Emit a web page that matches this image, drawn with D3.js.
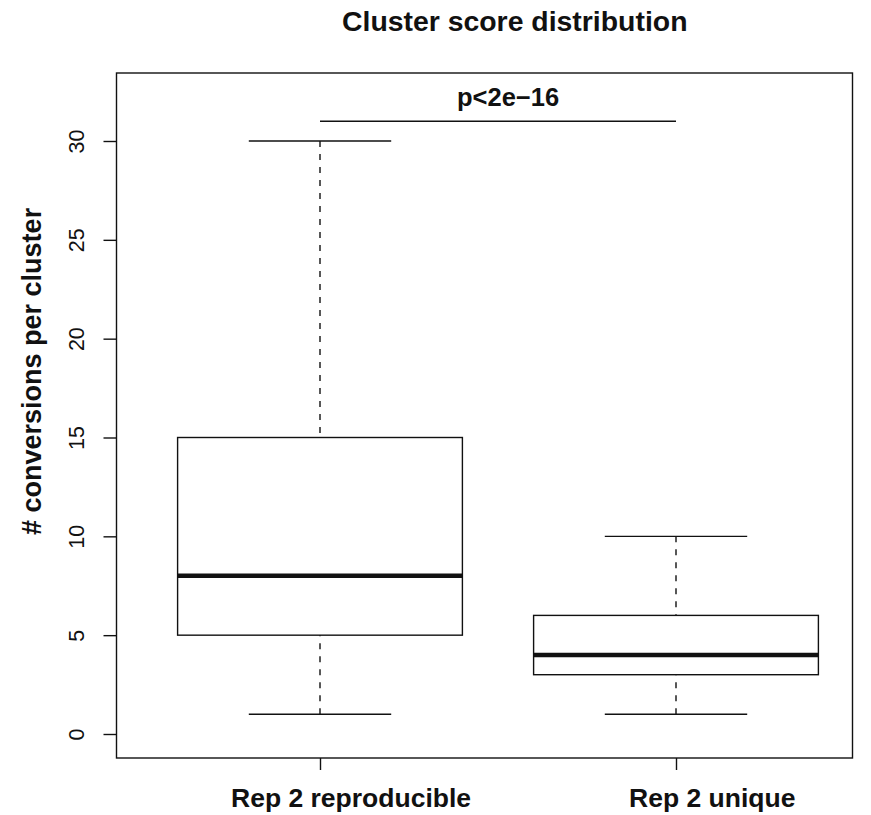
<!DOCTYPE html>
<html>
<head>
<meta charset="utf-8">
<script src="https://cdn.jsdelivr.net/npm/d3@7"></script>
<style>
  html, body { margin: 0; padding: 0; background: #fff; }
  svg { display: block; }
  text { font-family: "Liberation Sans", Arial, Helvetica, sans-serif; fill: #111; }
</style>
</head>
<body>
<svg id="chart" width="871" height="815"></svg>
<script>
// ---- data ----
const categories = ["Rep 2 reproducible", "Rep 2 unique"];
const whiskerLow = [1, 1];
const q1 = [5, 3];
const medians = [8, 4];
const q3 = [15, 6];
const whiskerHigh = [30, 10];
const yTicks = [0, 5, 10, 15, 20, 25, 30];
const titleText = "Cluster score distribution";
const yLabel = "# conversions per cluster";
const pText = "p<2e\u221216";
const pLevel = 31;

// ---- layout ----
const svg = d3.select("#chart");
const frame = { left: 116.5, right: 852.5, top: 73, bottom: 758 };
const ink = "#111";

const y = d3.scaleLinear().domain([0, 30]).range([734, 141]);
const x = d3.scaleLinear().domain([0, 1]).range([320, 676]);
const boxHalf = 0.4, capHalf = 0.2;

// frame
svg.append("rect")
  .attr("x", frame.left).attr("y", frame.top)
  .attr("width", frame.right - frame.left).attr("height", frame.bottom - frame.top)
  .attr("fill", "none").attr("stroke", ink).attr("stroke-width", 1.4);

// y axis
const yAxis = d3.axisLeft(y).tickValues(yTicks).tickSize(13).tickPadding(0).tickFormat(d3.format("d"));
const gy = svg.append("g").attr("transform", `translate(${frame.left},0)`).call(yAxis);
gy.select(".domain").remove();
gy.selectAll(".tick line").attr("stroke", ink).attr("stroke-width", 1.4);
gy.selectAll(".tick text")
  .attr("x", null).attr("dy", null)
  .attr("transform", "translate(-33,0) rotate(-90)")
  .attr("text-anchor", "middle")
  .style("font-size", "21.5px")
  .style("font-family", "'Liberation Sans', Arial, sans-serif")
  .attr("fill", ink);

// x axis ticks
const xAxis = d3.axisBottom(x).tickValues(categories.map((d, i) => i)).tickSize(12).tickFormat("");
const gx = svg.append("g").attr("transform", `translate(0,${frame.bottom})`).call(xAxis);
gx.select(".domain").remove();
gx.selectAll(".tick line").attr("stroke", ink).attr("stroke-width", 1.4);

// x labels
const labelStarts = [231, 629];
svg.selectAll(".xlab").data(categories).join("text")
  .attr("class", "xlab")
  .attr("x", (d, i) => labelStarts[i])
  .attr("y", 807)
  .attr("text-anchor", "start")
  .style("font-size", "26.5px").style("font-weight", "bold")
  .text(d => d);

// boxes
const g = svg.append("g");
categories.forEach((c, i) => {
  g.append("line")
    .attr("x1", x(i)).attr("x2", x(i))
    .attr("y1", y(whiskerHigh[i])).attr("y2", y(q3[i]))
    .attr("stroke", ink).attr("stroke-width", 1.4).attr("stroke-dasharray", "6,7");
  g.append("line")
    .attr("x1", x(i)).attr("x2", x(i))
    .attr("y1", y(whiskerLow[i])).attr("y2", y(q1[i]))
    .attr("stroke", ink).attr("stroke-width", 1.4).attr("stroke-dasharray", "6,7");
  [whiskerLow[i], whiskerHigh[i]].forEach(v => {
    g.append("line")
      .attr("x1", x(i - capHalf)).attr("x2", x(i + capHalf))
      .attr("y1", y(v)).attr("y2", y(v))
      .attr("stroke", ink).attr("stroke-width", 1.4);
  });
  g.append("rect")
    .attr("x", x(i - boxHalf)).attr("width", x(i + boxHalf) - x(i - boxHalf))
    .attr("y", y(q3[i])).attr("height", y(q1[i]) - y(q3[i]))
    .attr("fill", "none").attr("stroke", ink).attr("stroke-width", 1.4);
  g.append("line")
    .attr("x1", x(i - boxHalf)).attr("x2", x(i + boxHalf))
    .attr("y1", y(medians[i])).attr("y2", y(medians[i]))
    .attr("stroke", ink).attr("stroke-width", 4.5);
});

// significance bar
svg.append("line")
  .attr("x1", x(0)).attr("x2", x(1))
  .attr("y1", y(pLevel)).attr("y2", y(pLevel))
  .attr("stroke", ink).attr("stroke-width", 1.4);
svg.append("text")
  .attr("x", 457).attr("y", 106)
  .attr("text-anchor", "start")
  .style("font-size", "25.5px").style("font-weight", "bold")
  .text(pText);

// title
svg.append("text")
  .attr("x", 342).attr("y", 31)
  .attr("text-anchor", "start")
  .style("font-size", "28.4px").style("font-weight", "bold")
  .text(titleText);

// y label
svg.append("text")
  .attr("transform", "translate(41,535) rotate(-90)")
  .attr("text-anchor", "start")
  .style("font-size", "27px").style("font-weight", "bold")
  .text(yLabel);
</script>
</body>
</html>
